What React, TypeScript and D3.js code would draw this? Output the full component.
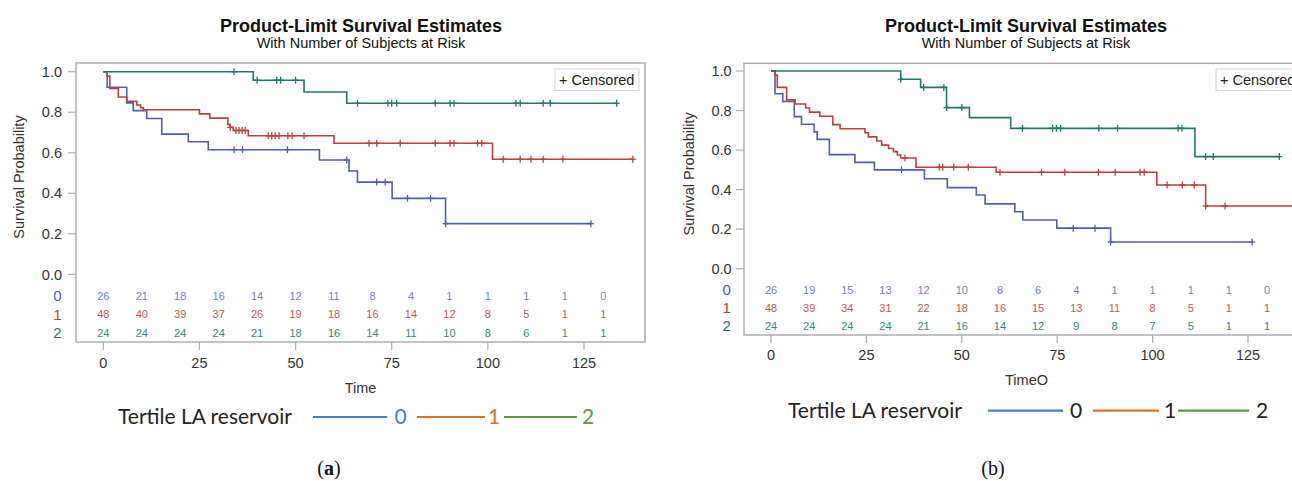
import React from 'react';
import * as d3 from 'd3';

// ---------- DATA ----------
const riskTimes = [0, 10, 20, 30, 40, 50, 60, 70, 80, 90, 100, 110, 120, 130];
const xTicks = [0, 25, 50, 75, 100, 125];
const yTicks = [0, 0.2, 0.4, 0.6, 0.8, 1.0];
const groups = ['0', '1', '2'];

// Panel (a) at-risk
const aRisk0 = [26, 21, 18, 16, 14, 12, 11, 8, 4, 1, 1, 1, 1, 0];
const aRisk1 = [48, 40, 39, 37, 26, 19, 18, 16, 14, 12, 8, 5, 1, 1];
const aRisk2 = [24, 24, 24, 24, 21, 18, 16, 14, 11, 10, 8, 6, 1, 1];
// Panel (b) at-risk
const bRisk0 = [26, 19, 15, 13, 12, 10, 8, 6, 4, 1, 1, 1, 1, 0];
const bRisk1 = [48, 39, 34, 31, 22, 18, 16, 15, 13, 11, 8, 5, 1, 1];
const bRisk2 = [24, 24, 24, 24, 21, 16, 14, 12, 9, 8, 7, 5, 1, 1];

// Panel (a) survival steps
const aTimes0 = [0, 1.0, 6.1, 7.8, 11.3, 15.2, 22.1, 27.3, 56.2, 63.9, 66.1, 75.1, 89.0];
const aSurv0 = [1, 0.923, 0.846, 0.808, 0.769, 0.692, 0.654, 0.615, 0.564, 0.51, 0.455, 0.375, 0.25];
const aEnd0 = 126.8;
const aCens0 = [34.0, 36.2, 47.9, 63.3, 71.1, 73.3, 79.1, 85.1, 89.0, 126.8];

const aTimes1 = [0, 1.0, 1.7, 3.9, 6.1, 8.7, 9.7, 10.4, 25.0, 27.7, 32.4, 32.9, 33.8, 37.7, 60.0, 101.2];
const aSurv1 = [1, 0.979, 0.917, 0.875, 0.854, 0.836, 0.822, 0.8125, 0.792, 0.771, 0.74, 0.725, 0.71, 0.684, 0.647, 0.568];
const aEnd1 = 137.7;
const aCens1 = [33.0, 34.5, 35.3, 36.1, 36.9, 42.9, 43.8, 44.7, 45.7, 48.0, 49.1, 52.2, 69.1, 71.1, 77.2, 86.3, 90.2, 91.2, 97.3, 98.4, 104.0, 108.4, 111.2, 114.4, 119.5, 137.7];

const aTimes2 = [0, 39.0, 52.2, 63.3];
const aSurv2 = [1, 0.958, 0.9, 0.844];
const aEnd2 = 133.5;
const aCens2 = [34.0, 40.0, 45.1, 46.1, 50.0, 66.1, 74.0, 75.0, 76.3, 86.3, 90.2, 91.2, 107.3, 108.4, 114.4, 116.2, 133.5];

// Panel (b) survival steps
const bTimes0 = [0, 1.05, 3.1, 6.1, 8.0, 11.3, 12.1, 15.3, 22.0, 27.1, 40.2, 46.2, 53.8, 56.1, 63.9, 66.0, 74.9, 89.0];
const bSurv0 = [1, 0.885, 0.846, 0.769, 0.731, 0.692, 0.654, 0.577, 0.538, 0.5, 0.455, 0.41, 0.373, 0.328, 0.288, 0.246, 0.205, 0.135];
const bEnd0 = 126.1;
const bCens0 = [34.2, 79.2, 84.9, 89.0, 126.1];

const bTimes1 = [0, 1.05, 1.65, 4.1, 6.3, 9.1, 10.1, 12.8, 16.2, 18.1, 24.6, 25.5, 27.7, 29.0, 30.8, 32.1, 33.1, 34.0, 38.0, 59.0, 101.1, 113.9];
const bSurv1 = [1, 0.979, 0.917, 0.854, 0.833, 0.8125, 0.792, 0.771, 0.729, 0.708, 0.688, 0.667, 0.646, 0.625, 0.608, 0.592, 0.575, 0.56, 0.513, 0.488, 0.423, 0.317];
const bEnd1 = 137.7;
const bCens1 = [35.1, 44.1, 45.0, 47.9, 51.7, 60.0, 70.9, 77.0, 85.8, 90.2, 96.7, 97.8, 103.8, 107.8, 110.9, 113.9, 119.0, 137.7];

const bTimes2 = [0, 34.0, 39.2, 46.0, 52.0, 62.8, 111.1];
const bSurv2 = [1, 0.958, 0.917, 0.815, 0.764, 0.71, 0.567];
const bEnd2 = 133.2;
const bCens2 = [34.0, 40.0, 45.3, 46.0, 50.0, 65.9, 73.8, 74.8, 75.9, 85.9, 90.8, 106.7, 107.7, 113.9, 115.9, 133.2];

// ---------- STYLE ----------
const lineColors = ['#4e5fb0', '#b8413a', '#1d7a6a'];
const riskColors = ['#7480c4', '#c25a54', '#2f8a78'];
const labelColors = ['#4d58a8', '#b3423c', '#1d7565'];
const legendColors = ['#3c82c8', '#e0701e', '#5a9a3c'];
const FRAME = '#a9adb2';
const SANS = '"Liberation Sans", Arial, sans-serif';
const LEG = 'Lato, "Open Sans", sans-serif';

type Series = { times: number[]; surv: number[]; end: number; cens: number[] };

type PanelProps = {
  frame: { x: number; y: number; w: number; h: number };
  xRange: [number, number];
  yRange: [number, number];
  series: Series[];
  risk: number[][];
  riskY: number[];
  rowLabelX: number;
  yLabelRight: number;
  yTitleX: number;
  tickLabelY: number;
  xTitle: string;
  xTitleY: number;
  titleX: number;
  censX: number;
  censW: number;
  legend: {
    y: number;
    textX: number;
    lines: [number, number][];
    digitX: number[];
    digitColors: string[];
  };
  caption: { x: number; y: number; letter: string; bold: boolean };
};

function survAt(s: Series, t: number) {
  const i = d3.bisectRight(s.times, t) - 1;
  return s.surv[Math.max(0, i)];
}

function Panel(p: PanelProps) {
  const x = d3.scaleLinear().domain([0, 125]).range(p.xRange);
  const y = d3.scaleLinear().domain([0, 1]).range(p.yRange);
  const line = d3
    .line<[number, number]>()
    .x((d) => x(d[0]))
    .y((d) => y(d[1]))
    .curve(d3.curveStepAfter);
  const fb = p.frame.y + p.frame.h;
  return (
    <g>
      <text x={p.titleX} y={31.5} textAnchor="middle" fontFamily={SANS} fontWeight="bold" fontSize={18} fill="#111">
        Product-Limit Survival Estimates
      </text>
      <text x={p.titleX} y={48} textAnchor="middle" fontFamily={SANS} fontSize={14.5} fill="#111">
        With Number of Subjects at Risk
      </text>
      <rect x={p.frame.x} y={p.frame.y} width={p.frame.w} height={p.frame.h} fill="#fff" stroke={FRAME} strokeWidth={1.5} />
      {/* y axis */}
      {yTicks.map((v) => (
        <g key={'y' + v}>
          <line x1={p.frame.x - 8} x2={p.frame.x} y1={y(v)} y2={y(v)} stroke={FRAME} strokeWidth={1.2} />
          <text x={p.yLabelRight} y={y(v)} dy="0.36em" textAnchor="end" fontFamily={SANS} fontSize={14.5} fill="#333">
            {v.toFixed(1)}
          </text>
        </g>
      ))}
      <text
        transform={`translate(${p.yTitleX},${(y(1) + y(0)) / 2 + 4}) rotate(-90)`}
        textAnchor="middle"
        dy="0.36em"
        fontFamily={SANS}
        fontSize={14.5}
        fill="#333"
      >
        Survival Probability
      </text>
      {/* x axis */}
      {xTicks.map((t) => (
        <g key={'x' + t}>
          <line x1={x(t)} x2={x(t)} y1={fb} y2={fb + 8} stroke={FRAME} strokeWidth={1.2} />
          <text x={x(t)} y={p.tickLabelY} dy="0.36em" textAnchor="middle" fontFamily={SANS} fontSize={14.5} fill="#333">
            {t}
          </text>
        </g>
      ))}
      <text x={(p.frame.x * 2 + p.frame.w) / 2} y={p.xTitleY} dy="0.36em" textAnchor="middle" fontFamily={SANS} fontSize={14.5} fill="#333">
        {p.xTitle}
      </text>
      {/* curves */}
      {p.series.map((s, gi) => {
        const pts: [number, number][] = s.times.map((t, i) => [t, s.surv[i]]);
        pts.push([s.end, s.surv[s.surv.length - 1]]);
        return (
          <g key={'s' + gi}>
            <path d={line(pts) || ''} fill="none" stroke={lineColors[gi]} strokeWidth={1.6} />
            {s.cens.map((c, ci) => {
              const cx = x(c);
              const cy = y(survAt(s, c));
              return (
                <g key={ci} stroke={lineColors[gi]} strokeWidth={1.3}>
                  <line x1={cx} x2={cx} y1={cy - 3.5} y2={cy + 3.5} />
                  <line x1={cx - 3} x2={cx + 3} y1={cy} y2={cy} />
                </g>
              );
            })}
          </g>
        );
      })}
      {/* censored legend */}
      <rect x={p.censX} y={69} width={p.censW} height={21.5} fill="#fff" stroke="#d4d4d4" strokeWidth={1} />
      <text x={p.censX + 4} y={80} dy="0.36em" fontFamily={SANS} fontSize={14.5} fill="#222">
        + Censored
      </text>
      {/* at risk table */}
      {p.risk.map((row, gi) => (
        <g key={'r' + gi}>
          <text x={p.rowLabelX} y={p.riskY[gi]} dy="0.36em" textAnchor="middle" fontFamily={SANS} fontSize={15} fill={labelColors[gi]}>
            {groups[gi]}
          </text>
          {row.map((n, i) => (
            <text key={i} x={x(riskTimes[i])} y={p.riskY[gi]} dy="0.36em" textAnchor="middle" fontFamily={SANS} fontSize={11} fill={riskColors[gi]}>
              {n}
            </text>
          ))}
        </g>
      ))}
      {/* legend (added) */}
      <text x={p.legend.textX} y={p.legend.y} dy="0.35em" fontFamily={LEG} fontSize={21} fill="#222">
        Tertile LA reservoir
      </text>
      {p.legend.lines.map((l, i) => (
        <g key={'l' + i}>
          <line x1={l[0]} x2={l[1]} y1={p.legend.y} y2={p.legend.y} stroke={legendColors[i]} strokeWidth={2.2} />
          <text x={p.legend.digitX[i]} y={p.legend.y} dy="0.35em" textAnchor="middle" fontFamily={LEG} fontSize={21} fill={p.legend.digitColors[i]}>
            {groups[i]}
          </text>
        </g>
      ))}
      <text x={p.caption.x} y={p.caption.y} dy="0.35em" textAnchor="middle" fontFamily='"Liberation Serif", "DejaVu Serif", serif' fontSize={20} fill="#111">
        (<tspan fontWeight={p.caption.bold ? 'bold' : 'normal'}>{p.caption.letter}</tspan>)
      </text>
    </g>
  );
}

export default function App() {
  const aSeries: Series[] = [
    { times: aTimes0, surv: aSurv0, end: aEnd0, cens: aCens0 },
    { times: aTimes1, surv: aSurv1, end: aEnd1, cens: aCens1 },
    { times: aTimes2, surv: aSurv2, end: aEnd2, cens: aCens2 },
  ];
  const bSeries: Series[] = [
    { times: bTimes0, surv: bSurv0, end: bEnd0, cens: bCens0 },
    { times: bTimes1, surv: bSurv1, end: bEnd1, cens: bCens1 },
    { times: bTimes2, surv: bSurv2, end: bEnd2, cens: bCens2 },
  ];
  return (
    <svg width={1292} height={481} style={{ position: 'absolute', left: 0, top: 0, background: '#fff' }}>
      <rect x={0} y={0} width={1292} height={481} fill="#fff" />
      <Panel
        frame={{ x: 76, y: 63, w: 569, h: 279 }}
        xRange={[103.3, 584]}
        yRange={[274.3, 71.7]}
        series={aSeries}
        risk={[aRisk0, aRisk1, aRisk2]}
        riskY={[296, 314.3, 332.7]}
        rowLabelX={57.5}
        yLabelRight={62}
        yTitleX={18.5}
        tickLabelY={363}
        xTitle="Time"
        xTitleY={388}
        titleX={361}
        censX={555}
        censW={84}
        legend={{
          y: 417,
          textX: 118,
          lines: [[313, 387], [417, 485], [504, 577]],
          digitX: [400.7, 494, 588],
          digitColors: legendColors,
        }}
        caption={{ x: 329, y: 468, letter: 'a', bold: true }}
      />
      <Panel
        frame={{ x: 744, y: 63.3, w: 565, h: 271.7 }}
        xRange={[771, 1248]}
        yRange={[268.7, 71]}
        series={bSeries}
        risk={[bRisk0, bRisk1, bRisk2]}
        riskY={[290, 307.7, 325.7]}
        rowLabelX={726.7}
        yLabelRight={731.7}
        yTitleX={688.3}
        tickLabelY={355}
        xTitle="TimeO"
        xTitleY={380}
        titleX={1026}
        censX={1216}
        censW={84}
        legend={{
          y: 410.7,
          textX: 788,
          lines: [[988, 1063], [1093, 1159], [1178, 1249]],
          digitX: [1076, 1170, 1262],
          digitColors: ['#222', '#222', '#222'],
        }}
        caption={{ x: 993, y: 468, letter: 'b', bold: false }}
      />
    </svg>
  );
}
